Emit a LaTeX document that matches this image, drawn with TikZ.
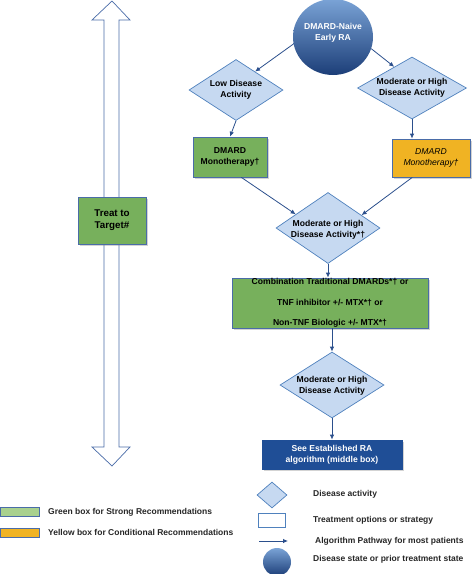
\documentclass[tikz,border=0pt]{standalone}
\usepackage{fontspec}
\setmainfont{Liberation Sans}
\usetikzlibrary{shapes.geometric,arrows.meta,shadows}
\definecolor{diafill}{HTML}{C6D9F1}
\definecolor{diadraw}{HTML}{4F81BD}
\definecolor{boxgreen}{HTML}{77B05C}
\definecolor{boxyellow}{HTML}{F0B323}
\definecolor{boxblue}{HTML}{1F4E96}
\definecolor{boxdraw}{HTML}{4A6CA8}
\definecolor{arrblue}{HTML}{2B4F8C}
\definecolor{leggreen}{HTML}{A9D18E}
\definecolor{circtop}{HTML}{7AA3D6}
\definecolor{circbot}{HTML}{1C3E78}
\tikzset{
  dia/.style={diamond, draw=diadraw, fill=diafill, line width=0.7pt, inner sep=0pt},
  lbl/.style={font=\fontsize{8.6}{10.7}\selectfont\bfseries, align=center, inner sep=0pt},
  gbox/.style={rectangle, draw=boxdraw, fill=boxgreen, line width=0.7pt, inner sep=0pt,
    drop shadow={shadow xshift=1.5pt, shadow yshift=-1.5pt, opacity=0.35}},
  arr/.style={draw=arrblue, line width=0.8pt, -{Latex[length=5pt,width=4.5pt]}},
  legtxt/.style={font=\fontsize{8.5}{10}\selectfont\bfseries, anchor=west, inner sep=0pt, text=black!85},
}
\begin{document}
\begin{tikzpicture}[x=1pt,y=-1pt]
\useasboundingbox (0,0) rectangle (474,574);
% Treat-to-target double arrow
\draw[draw=boxdraw, line width=0.7pt, fill=white]
  (112,1) -- (130,20) -- (119,20) -- (119,447) -- (130,447) -- (112,466)
  -- (92,447) -- (104,447) -- (104,20) -- (92,20) -- cycle;
\node[gbox, minimum width=68pt, minimum height=47pt, lbl, font=\fontsize{9.8}{12}\selectfont\bfseries] (t2t) at (112,220.5) {Treat to\\Target\#};
% Top circle
\node[ellipse, minimum width=80pt, minimum height=76pt, inner sep=0pt,
  top color=circtop, bottom color=circbot, draw=none] (circ) at (333,37) {};
\node[lbl, text=white] (circt) at (333,33) {DMARD-Naive\\Early RA};
% Diamonds
\node[dia, minimum width=94pt, minimum height=61pt] (lowd) at (236,90) {};
\node[lbl] (lowdt) at (lowd) {Low Disease\\Activity};
\node[dia, minimum width=109pt, minimum height=62pt] (modd) at (412,88) {};
\node[lbl] (moddt) at (modd) {Moderate or High\\Disease Activity};
% Monotherapy boxes
\node[gbox, minimum width=74pt, minimum height=40pt, lbl] (gbx) at (230,157) {DMARD\\Monotherapy†};
\node[gbox, fill=boxyellow, minimum width=78pt, minimum height=38pt, lbl, font=\fontsize{8.6}{10.7}\selectfont\itshape] (ybx) at (431,158) {DMARD\\Monotherapy†};
% Middle diamond
\node[dia, minimum width=104pt, minimum height=71pt] (midd) at (328,228) {};
\node[lbl] (middt) at (328,230) {Moderate or High\\Disease Activity*†};
% Combination box
\node[gbox, minimum width=196pt, minimum height=50pt, lbl] (combo) at (330,303)
  {Combination Traditional DMARDs*† or\\[10pt]TNF inhibitor +/- MTX*† or\\[10pt]Non-TNF Biologic +/- MTX*†};
% Bottom diamond
\node[dia, minimum width=104pt, minimum height=66pt] (botd) at (332,385) {};
\node[lbl] (botdt) at (332,386) {Moderate or High\\Disease Activity};
% Blue box
\node[gbox, fill=boxblue, draw=boxblue, minimum width=140pt, minimum height=29pt, lbl, text=white] (bbx) at (332,454.5) {See Established RA\\algorithm (middle box)};
% Connectors
\draw[arr] (circ.190) -- (lowd.44);
\draw[arr] (circ.343) -- (modd.130);
\draw[arr] (lowd.south) -- (gbx.north);
\draw[arr] (modd.south) -- (modd.south |- ybx.north);
\draw[arr] (gbx.299) -- (midd.157);
\draw[arr] (ybx.226) -- (midd.21);
\draw[arr] (midd.south) -- (midd.south |- combo.north);
\draw[arr] (combo.south -| botd.north) -- (botd.north);
\draw[arr] (botd.south) -- (botd.south |- bbx.north);
% Legend left
\node[rectangle, draw=boxdraw, fill=leggreen, line width=0.8pt, minimum width=39pt, minimum height=9pt, inner sep=0pt] (lg1) at (20,511.5) {};
\node[legtxt] (lg1t) at (48,512) {Green box for Strong Recommendations};
\node[rectangle, draw=boxdraw, fill=boxyellow, line width=0.8pt, minimum width=39pt, minimum height=9pt, inner sep=0pt] (lg2) at (20,533) {};
\node[legtxt] (lg2t) at (48,532) {Yellow box for Conditional Recommendations};
% Legend right
\node[dia, minimum width=30pt, minimum height=26pt] (lgd) at (272,495) {};
\node[legtxt] (lgdt) at (313,494) {Disease activity};
\node[rectangle, draw=diadraw, fill=white, line width=0.8pt, minimum width=27pt, minimum height=14pt, inner sep=0pt] (lgr) at (271.5,520) {};
\node[legtxt] (lgrt) at (313,520) {Treatment options or strategy};
\coordinate (lga1) at (259,541);
\coordinate (lga2) at (288,541);
\draw[arr] (lga1) -- (lga2);
\node[legtxt] (lgat) at (315,541) {Algorithm Pathway for most patients};
\node[ellipse, minimum width=28pt, minimum height=28pt, inner sep=0pt,
  top color=circtop, bottom color=circbot] (lgc) at (277,562) {};
\node[legtxt] (lgct) at (313,559) {Disease state or prior treatment state};
\end{tikzpicture}
\end{document}
